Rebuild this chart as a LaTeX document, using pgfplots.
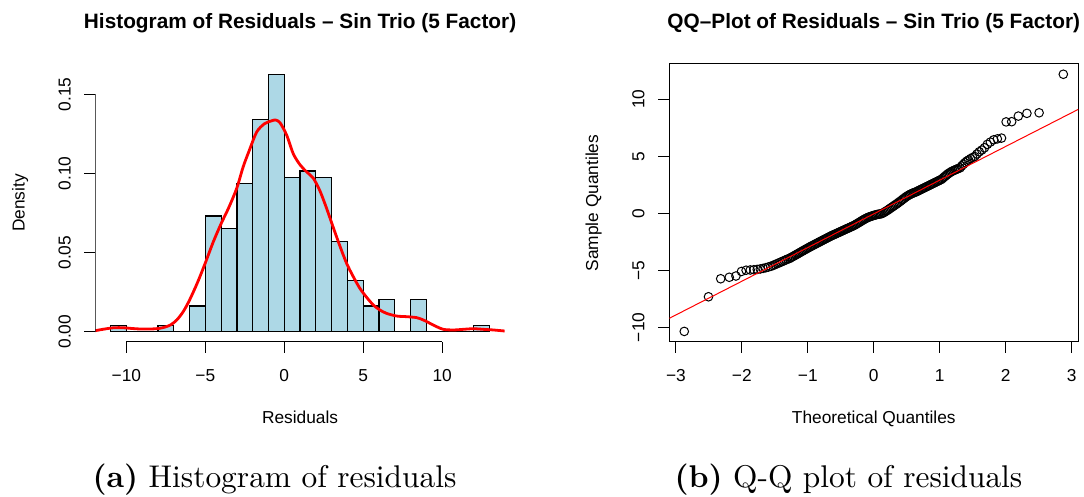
\documentclass[border=0pt]{standalone}
\usepackage{fontspec}
\usepackage{pgfplots}
\pgfplotsset{compat=1.18}
\newfontfamily\rsans{Liberation Sans}
\newfontfamily\capfont{lmroman10-regular}[Extension=.otf, BoldFont=lmroman10-bold]
\definecolor{histblue}{HTML}{ADD8E6}

\begin{document}
\begin{tikzpicture}[x=1pt,y=1pt]
\useasboundingbox (0,0) rectangle (542,248.5);

% ---- histogram of residuals ----
\begin{axis}[
  at={(47.73pt,77.5pt)}, anchor=south west,
  width=204.6pt, height=138.9pt, scale only axis,
  xmin=-11.96, xmax=13.96, ymin=-0.0065, ymax=0.1691,
  axis lines*=left,
  axis line style={draw=none},
  tick align=outside, major tick length=5.5pt,
  tick style={black, line width=0.5pt},
  xtick={-10,-5,0,5,10}, xticklabels={−10,−5,0,5,10},
  ytick={0,0.05,0.1,0.15}, yticklabels={0.00,0.05,0.10,0.15},
  minor tick num=0,
  ticklabel style={font=\rsans\fontsize{8.66}{10}\selectfont, inner sep=0pt},
  xticklabel style={anchor=base, yshift=-14.35pt},
  yticklabel style={xshift=-6.95pt, rotate=90, anchor=base},
]
\addplot[ybar interval, fill=histblue, draw=black, line width=0.6pt] coordinates {
  (-11,0.0041) (-10,0) (-9,0) (-8,0.0041) (-7,0) (-6,0.0163) (-5,0.0732)
  (-4,0.0650) (-3,0.0935) (-2,0.1341) (-1,0.1626) (0,0.0976) (1,0.1016)
  (2,0.0976) (3,0.0569) (4,0.0325) (5,0.0163) (6,0.0203) (7,0) (8,0.0203)
  (9,0) (10,0) (11,0) (12,0.0041) (13,0)
};
\addplot[red, line width=1.4pt, smooth, no markers] coordinates {
  (-12.05,0.0005) (-11.5,0.0015) (-10.8,0.0025) (-10.2,0.0025) (-9.6,0.002)
  (-9.1,0.0017) (-8.5,0.0017) (-8.0,0.002) (-7.6,0.0028) (-7.2,0.0043)
  (-6.8,0.0075) (-6.4,0.0127) (-6.0,0.020) (-5.5,0.031) (-5.0,0.0435)
  (-4.5,0.0567) (-4.0,0.0683) (-3.5,0.0788) (-3.0,0.091) (-2.6,0.1043)
  (-2.2,0.115) (-1.75,0.1262) (-1.25,0.1315) (-0.8,0.1333) (-0.55,0.1338)
  (-0.27,0.1321) (0.15,0.1243) (0.57,0.1125) (1.0,0.1055) (1.42,0.101)
  (1.84,0.097) (2.26,0.089) (2.68,0.078) (3.1,0.066) (3.53,0.054)
  (3.95,0.0432) (4.37,0.0348) (4.79,0.0274) (5.22,0.0217) (5.64,0.0169)
  (6.06,0.0137) (6.48,0.0116) (7.12,0.0099) (7.75,0.0095) (8.38,0.0089)
  (8.81,0.0074) (9.23,0.0053) (9.65,0.0032) (10.07,0.0015) (10.7,0.0011)
  (11.34,0.0015) (11.97,0.0019) (12.6,0.0015) (13.24,0.0011) (14.0,0.0004)
};
\draw[black, line width=0.5pt] (axis cs:-10,-0.0065) -- (axis cs:10,-0.0065);
\draw[black, line width=0.5pt] (axis cs:-11.96,0) -- (axis cs:-11.96,0.15);
\end{axis}

% ---- normal QQ plot ----
\begin{axis}[
  at={(334.65pt,77.6pt)}, anchor=south west,
  width=204.5pt, height=138.9pt, scale only axis,
  xmin=-3.1, xmax=3.1, ymin=-11.27, ymax=13.1,
  clip mode=individual,
  axis line style={black, line width=0.5pt},
  tick align=outside, major tick length=5.5pt,
  tick style={black, line width=0.5pt},
  xtick pos=lower, ytick pos=left,
  xtick={-3,-2,-1,0,1,2,3}, xticklabels={−3,−2,−1,0,1,2,3},
  ytick={-10,-5,0,5,10}, yticklabels={−10,−5,0,5,10},
  minor tick num=0,
  ticklabel style={font=\rsans\fontsize{8.66}{10}\selectfont, inner sep=0pt},
  xticklabel style={anchor=base, yshift=-14.35pt},
  yticklabel style={xshift=-6.95pt, rotate=90, anchor=base},
]
\addplot[only marks, mark=o, mark size=2.15pt, mark options={black, line width=0.5pt}] coordinates {
  (-2.873,-10.36) (-2.506,-7.32) (-2.321,-5.74) (-2.191,-5.61) (-2.090,-5.50)
  (-2.006,-5.10) (-1.936,-4.99) (-1.873,-4.97) (-1.818,-4.95) (-1.767,-4.92)
  (-1.721,-4.88) (-1.678,-4.83) (-1.637,-4.77) (-1.599,-4.71) (-1.563,-4.65)
  (-1.530,-4.58) (-1.498,-4.50) (-1.467,-4.42) (-1.438,-4.35) (-1.410,-4.28)
  (-1.383,-4.21) (-1.357,-4.15) (-1.332,-4.08) (-1.308,-4.01)
  (-1.28,-3.97) (-1.26,-3.90) (-1.24,-3.83) (-1.22,-3.77) (-1.20,-3.70)
  (-1.18,-3.64) (-1.16,-3.57) (-1.14,-3.51) (-1.12,-3.44) (-1.10,-3.37)
  (-1.08,-3.31) (-1.06,-3.24) (-1.04,-3.18) (-1.02,-3.11) (-1.00,-3.05)
  (-0.98,-2.98) (-0.96,-2.92) (-0.94,-2.86) (-0.92,-2.80) (-0.90,-2.74)
  (-0.88,-2.68) (-0.86,-2.62) (-0.84,-2.56) (-0.82,-2.50) (-0.80,-2.44)
  (-0.78,-2.38) (-0.76,-2.32) (-0.74,-2.26) (-0.72,-2.20) (-0.70,-2.14)
  (-0.68,-2.08) (-0.66,-2.02) (-0.64,-1.96) (-0.62,-1.91) (-0.60,-1.86)
  (-0.58,-1.81) (-0.56,-1.75) (-0.54,-1.70) (-0.52,-1.65) (-0.50,-1.59)
  (-0.48,-1.54) (-0.46,-1.49) (-0.44,-1.43) (-0.42,-1.38) (-0.40,-1.33)
  (-0.38,-1.28) (-0.36,-1.22) (-0.34,-1.17) (-0.32,-1.12) (-0.30,-1.06)
  (-0.28,-1.00) (-0.26,-0.93) (-0.24,-0.86) (-0.22,-0.79) (-0.20,-0.72)
  (-0.18,-0.65) (-0.16,-0.58) (-0.14,-0.51) (-0.12,-0.45) (-0.10,-0.39)
  (-0.08,-0.34) (-0.06,-0.30) (-0.04,-0.26) (-0.02,-0.22) (0.00,-0.18)
  (0.02,-0.15) (0.04,-0.12) (0.06,-0.09) (0.08,-0.07) (0.10,-0.05)
  (0.12,-0.03) (0.14,0.03) (0.16,0.10) (0.18,0.17) (0.20,0.24)
  (0.22,0.32) (0.24,0.40) (0.26,0.48) (0.28,0.56) (0.30,0.64)
  (0.32,0.72) (0.34,0.80) (0.36,0.88) (0.38,0.97) (0.40,1.05)
  (0.42,1.14) (0.44,1.23) (0.46,1.32) (0.48,1.41) (0.50,1.49)
  (0.52,1.56) (0.54,1.63) (0.56,1.69) (0.58,1.74) (0.60,1.79)
  (0.62,1.84) (0.64,1.88) (0.66,1.93) (0.68,2.00) (0.70,2.05)
  (0.72,2.11) (0.74,2.17) (0.76,2.22) (0.78,2.28) (0.80,2.34)
  (0.82,2.39) (0.84,2.45) (0.86,2.51) (0.88,2.57) (0.90,2.62)
  (0.92,2.68) (0.94,2.74) (0.96,2.79) (0.98,2.85) (1.00,2.91)
  (1.02,2.96) (1.04,3.05) (1.06,3.15) (1.08,3.25) (1.10,3.35)
  (1.12,3.44) (1.14,3.52) (1.16,3.60) (1.18,3.67) (1.20,3.73)
  (1.22,3.78) (1.24,3.83) (1.26,3.88) (1.28,3.93)
  (1.308,3.99) (1.332,4.15) (1.357,4.30) (1.383,4.45) (1.410,4.58)
  (1.438,4.68) (1.467,4.80) (1.498,4.90) (1.530,4.98) (1.563,5.20)
  (1.599,5.40) (1.637,5.55) (1.678,5.75) (1.721,6.05) (1.767,6.25)
  (1.818,6.45) (1.873,6.53) (1.936,6.60) (2.006,8.02) (2.090,8.04)
  (2.191,8.53) (2.321,8.77) (2.506,8.82) (2.873,12.20)
};
\addplot[red, line width=0.5pt, no markers] coordinates {(-3.1,-9.21) (3.1,9.12)};
\end{axis}

% ---- titles, axis labels, captions ----
\begin{scope}[every node/.style={inner sep=0pt}]
\node[anchor=base, font=\rsans\bfseries\fontsize{10.4}{12}\selectfont] at (150.05,234.35)
  {Histogram of Residuals – Sin Trio (5 Factor)};
\node[anchor=base, font=\rsans\bfseries\fontsize{10.4}{12}\selectfont] at (436.9,234.35)
  {QQ–Plot of Residuals – Sin Trio (5 Factor)};
\node[anchor=base, font=\rsans\fontsize{8.66}{10}\selectfont] at (150.05,36.75) {Residuals};
\node[anchor=base, font=\rsans\fontsize{8.66}{10}\selectfont] at (436.9,36.75) {Theoretical Quantiles};
\node[anchor=base, rotate=90, font=\rsans\fontsize{8.66}{10}\selectfont] at (12.3,146.95) {Density};
\node[anchor=base, rotate=90, font=\rsans\fontsize{8.66}{10}\selectfont] at (299.1,146.95) {Sample Quantiles};
\node[anchor=base, font=\capfont\fontsize{15.7}{18}\selectfont] at (137.25,4.5)
  {\textbf{(a)} Histogram of residuals};
\node[anchor=base, font=\capfont\fontsize{15.7}{18}\selectfont] at (424.25,4.5)
  {\textbf{(b)} Q-Q plot of residuals};
\end{scope}
\end{tikzpicture}
\end{document}
